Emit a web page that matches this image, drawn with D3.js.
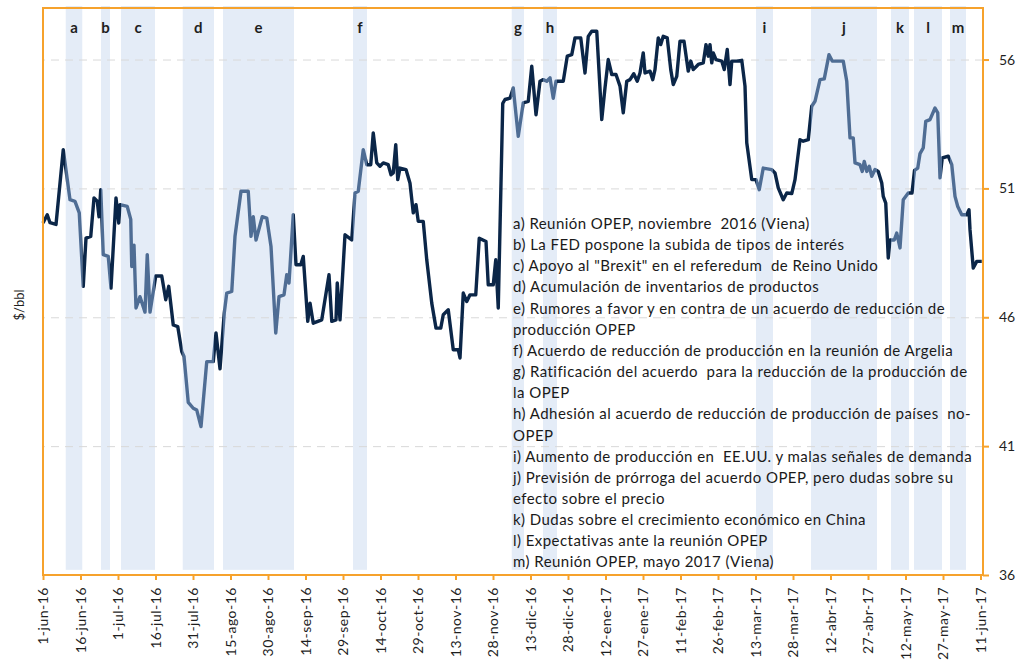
<!DOCTYPE html>
<html>
<head>
<meta charset="utf-8">
<script src="https://cdn.jsdelivr.net/npm/d3@7"></script>
<style>
  body { margin: 0; background: #fff; }
  svg { display: block; font-family: Lato, "Open Sans", sans-serif; }
</style>
</head>
<body>
<div id="chart"></div>
<script>
// ==== DATA ====
// day 0 = 1-jun-16; DAYS are days after that date, PRICE in $/bbl
const START = Date.UTC(2016, 5, 1);
const END_DAY = 376;

const DAYS = [
  0, 1.7, 2.8, 5.2, 8.1, 10.8, 12.8, 14.5, 16.1, 17.2, 19.1, 20.4, 21.7, 22.4, 23.1, 24.1, 26.1, 27.2, 29.2, 30.3,
  30.8, 33.7, 35.1, 35.5, 36.4, 37.2, 38.8, 40.8, 41.7, 42.8, 45.1, 47.5, 49.1, 50.3, 52.1, 53.9, 55.5, 56.4, 58.1, 60.1,
  61.5, 63.2, 65.5, 68.1, 69.2, 70.8, 72.5, 73.5, 75.5, 76.8, 79.2, 82.1, 83.2, 84.1, 85.2, 87.7, 89.5, 91.2, 93.1, 94.4,
  96.4, 97.5, 98.4, 100.1, 101.2, 103.1, 104.1, 105.9, 106.8, 108.1, 111.5, 114.4, 115.5, 117.2, 117.7, 118.8, 120.8, 123.5, 124.8, 126.1,
  128.1, 129.5, 131.1, 132.1, 133.5, 134.8, 136.1, 138.1, 139.2, 140.1, 141.1, 141.9, 142.8, 145.2, 146.8, 148.1, 149.2, 150.1, 152.1, 153.5,
  155.5, 157.2, 159.1, 160.1, 162.1, 164.1, 166.1, 166.8, 168.1, 169.5, 170.8, 173.1, 174.5, 177.2, 178.1, 180.1, 181.1, 182.1, 183.9, 184.8,
  186.8, 188.1, 190.1, 192.1, 194.1, 195.5, 197.2, 198.8, 200.1, 201.5, 202.8, 204.1, 205.2, 208.1, 209.7, 211.5, 212.8, 215.1, 216.8, 218.1,
  219.5, 221.5, 223.5, 224.8, 226.1, 227.5, 229.2, 230.8, 232.1, 233.5, 234.8, 236.3, 237.7, 238.8, 240.1, 240.8, 242.8, 243.9, 244.8, 246.1,
  247.1, 248.1, 249.7, 251.1, 252.1, 253.5, 254.8, 256.4, 258.1, 259.1, 260.1, 262.1, 264.1, 265.2, 266.1, 266.8, 267.5, 268.1, 269.2, 271.5,
  272.5, 273.7, 274.8, 275.5, 277.5, 279.5, 280.8, 281.5, 283.5, 285.2, 286.5, 288.1, 291.5, 292.8, 294.1, 296.1, 297.5, 299.5, 300.8, 302.8,
  304.1, 306.1, 307.5, 308.8, 310.8, 312.5, 314.4, 315.7, 320.1, 321.5, 322.8, 324.1, 324.8, 326.8, 327.7, 328.5, 329.5, 330.5, 331.5, 332.8,
  334.1, 335.5, 336.1, 337.1, 338.1, 338.8, 340.5, 341.5, 342.8, 344.1, 346.1, 347.6, 348.6, 349.9, 350.8, 352.1, 353.1, 354.8, 356.8, 357.9,
  358.8, 359.7, 362.1, 363.5, 364.8, 365.9, 367.5, 369.5, 370.4, 370.8, 372.1, 373.5, 375.5
];

const PRICE = [
  49.66, 49.98, 49.67, 49.6, 52.5, 50.56, 50.5, 50.05, 47.2, 49.07, 49.14, 50.63, 50.5, 49.9, 50.95, 48.43, 48.36, 47.13, 50.63, 49.66,
  50.37, 50.3, 49.8, 47.97, 48.8, 46.36, 46.8, 46.2, 48.43, 46.2, 47.6, 47.6, 46.68, 47.2, 45.7, 45.64, 44.67, 44.48, 42.7, 42.47,
  42.4, 41.76, 44.28, 44.28, 45.39, 44.0, 46.16, 46.94, 47.0, 49.14, 50.89, 50.89, 49.14, 49.9, 49.0, 49.9, 49.85, 48.75, 45.39, 46.8,
  46.87, 47.65, 47.33, 49.98, 48.04, 48.04, 48.36, 45.84, 46.55, 45.77, 45.9, 47.65, 45.84, 45.9, 47.33, 45.9, 49.2, 49.0, 50.82, 50.89,
  52.5, 51.92, 51.92, 53.15, 51.99, 51.86, 51.99, 51.92, 51.53, 51.6, 52.7, 51.34, 51.79, 51.73, 51.2, 50.05, 50.37, 49.72, 49.72, 48.23,
  46.55, 45.58, 45.58, 46.1, 46.29, 44.74, 44.74, 44.42, 46.94, 46.61, 46.87, 46.87, 49.07, 48.94, 47.26, 47.26, 48.23, 46.36, 54.3, 54.45,
  54.5, 54.9, 53.02, 54.32, 54.38, 55.74, 53.86, 55.16, 55.22, 55.16, 55.29, 54.5, 55.16, 55.16, 56.13, 56.19, 56.84, 56.84, 55.48, 56.9,
  57.1, 57.1, 53.67, 54.9, 56.0, 55.42, 55.42, 54.97, 53.93, 55.16, 55.22, 55.45, 55.16, 55.48, 56.26, 55.48, 55.55, 55.22, 55.61, 56.84,
  56.58, 56.9, 56.84, 55.61, 55.03, 55.35, 56.71, 56.71, 55.55, 55.94, 55.61, 55.81, 55.87, 56.58, 56.13, 56.58, 55.87, 56.26, 56.0, 55.94,
  55.61, 56.39, 55.03, 55.94, 55.94, 55.97, 54.97, 52.77, 51.34, 51.34, 50.95, 51.79, 51.73, 51.6, 51.02, 50.56, 50.82, 50.8, 51.34, 52.89,
  52.83, 52.89, 54.19, 54.38, 55.22, 55.25, 56.19, 55.94, 55.94, 55.16, 52.96, 52.96, 51.99, 51.92, 51.66, 52.05, 51.66, 51.86, 51.47, 51.73,
  51.66, 51.21, 50.69, 50.43, 48.3, 49.0, 49.0, 49.27, 48.69, 50.56, 50.82, 50.82, 51.7, 51.79, 52.35, 52.57, 53.6, 53.67, 54.12, 53.93,
  51.41, 52.18, 52.25, 51.92, 50.69, 50.3, 49.98, 49.98, 50.17, 49.4, 47.91, 48.17, 48.17
];

// event windows (days after 1-jun-16)
const BAND_LABELS = ["a", "b", "c", "d", "e", "f", "g", "h", "i", "j", "k", "l", "m"];
const BAND_START  = [9.1, 23.2, 31.2, 55.9, 72, 124, 187.5, 200, 285.2, 307.2, 339.2, 348.4, 362.8];
const BAND_END    = [15.7, 26.8, 44.8, 68.4, 100.4, 129.6, 192.4, 205.6, 292, 333.6, 346.4, 359.6, 369.2];

const Y_TICKS = [36, 41, 46, 51, 56];
const GRID_VALUES = [41, 46, 51, 56];
const X_TICK_DAYS = [0, 15, 30, 45, 60, 75, 90, 105, 120, 135, 150, 165, 180, 195, 210, 225, 240, 255, 270, 285, 300, 315, 330, 345, 360, 375];
const MESES = ["ene", "feb", "mar", "abr", "may", "jun", "jul", "ago", "sep", "oct", "nov", "dic"];

const NOTES = [
  "a) Reunión OPEP, noviembre  2016 (Viena)",
  "b) La FED pospone la subida de tipos de interés",
  "c) Apoyo al \"Brexit\" en el referedum  de Reino Unido",
  "d) Acumulación de inventarios de productos",
  "e) Rumores a favor y en contra de un acuerdo de reducción de",
  "producción OPEP",
  "f) Acuerdo de reducción de producción en la reunión de Argelia",
  "g) Ratificación del acuerdo  para la reducción de la producción de",
  "la OPEP",
  "h) Adhesión al acuerdo de reducción de producción de países  no-",
  "OPEP",
  "i) Aumento de producción en  EE.UU. y malas señales de demanda",
  "j) Previsión de prórroga del acuerdo OPEP, pero dudas sobre su",
  "efecto sobre el precio",
  "k) Dudas sobre el crecimiento económico en China",
  "l) Expectativas ante la reunión OPEP",
  "m) Reunión OPEP, mayo 2017 (Viena)"
];

// ==== SIZE / MARGINS ====
const width = 1022;
const height = 662;
const margin = { top: 8, right: 39, bottom: 87, left: 43 };

const DARK = "#0b2648";
const LIGHT = "#4f6d94";
const ORANGE = "#f6a22c";
const BAND_FILL = "#e4ecf7";

const day = d => new Date(START + d * 864e5);

// ==== SCALES ====
const x = d3.scaleUtc().domain([day(0), day(END_DAY)]).range([margin.left, width - margin.right]);
const y = d3.scaleLinear().domain([36, 58]).range([height - margin.bottom, margin.top]);

const series = DAYS.map((d, i) => ({ date: day(d), price: PRICE[i] }));
const bands = BAND_LABELS.map((k, i) => ({ key: k, s: day(BAND_START[i]), e: day(BAND_END[i]) }));

// ==== ROOT SVG ====
const svg = d3.select("#chart")
  .append("svg")
  .attr("width", width)
  .attr("height", height);

// masks: light line inside bands, dark line outside
const defs = svg.append("defs");
defs.append("clipPath").attr("id", "inBands")
  .selectAll("rect")
  .data(bands)
  .join("rect")
  .attr("x", d => x(d.s))
  .attr("width", d => x(d.e) - x(d.s))
  .attr("y", 0)
  .attr("height", height);

const mask = defs.append("mask").attr("id", "outBands");
mask.append("rect").attr("width", width).attr("height", height).attr("fill", "#fff");
mask.selectAll("rect.hole")
  .data(bands)
  .join("rect")
  .attr("class", "hole")
  .attr("x", d => x(d.s))
  .attr("width", d => x(d.e) - x(d.s))
  .attr("y", 0)
  .attr("height", height)
  .attr("fill", "#000");

// Bands
svg.append("g")
  .selectAll("rect")
  .data(bands)
  .join("rect")
  .attr("x", d => x(d.s))
  .attr("width", d => x(d.e) - x(d.s))
  .attr("y", y(58) - 2)
  .attr("height", y(36.2) - y(58) + 2)
  .attr("fill", BAND_FILL);

// Band letters
svg.append("g")
  .selectAll("text")
  .data(bands)
  .join("text")
  .attr("x", d => (x(d.s) + x(d.e)) / 2)
  .attr("y", 33)
  .attr("text-anchor", "middle")
  .attr("font-size", 15)
  .attr("font-weight", "bold")
  .attr("fill", "#1e1e1e")
  .text(d => d.key);

// Grid lines
const grid = svg.append("g")
  .attr("transform", `translate(${width - margin.right},0)`)
  .call(d3.axisRight(y).tickValues(GRID_VALUES).tickSize(-(width - margin.left - margin.right)).tickFormat(""));
grid.select(".domain").remove();
grid.selectAll(".tick line").attr("stroke", "#d9d9d9").attr("stroke-dasharray", "8,6");

// Line
const line = d3.line()
  .x(d => x(d.date))
  .y(d => y(d.price));

svg.append("path")
  .datum(series)
  .attr("fill", "none")
  .attr("stroke", DARK)
  .attr("stroke-width", 3.4)
  .attr("stroke-linejoin", "round")
  .attr("mask", "url(#outBands)")
  .attr("d", line);

svg.append("path")
  .datum(series)
  .attr("fill", "none")
  .attr("stroke", LIGHT)
  .attr("stroke-width", 3.4)
  .attr("stroke-linejoin", "round")
  .attr("clip-path", "url(#inBands)")
  .attr("d", line);

// X axis
const fmt = d => `${d.getUTCDate()}-${MESES[d.getUTCMonth()]}-${String(d.getUTCFullYear()).slice(2)}`;
const gx = svg.append("g")
  .attr("transform", `translate(0,${height - margin.bottom})`)
  .call(d3.axisBottom(x).tickValues(X_TICK_DAYS.map(day)).tickSize(5).tickFormat(fmt));
gx.select(".domain").remove();
gx.selectAll(".tick line").attr("stroke", ORANGE).attr("stroke-width", 2);
gx.selectAll(".tick text")
  .attr("transform", "rotate(-90)")
  .attr("text-anchor", "end")
  .attr("x", -12)
  .attr("y", 0)
  .attr("dy", "0.35em")
  .attr("font-size", 14)
  .attr("letter-spacing", "0.5px")
  .attr("font-family", "Lato, sans-serif")
  .attr("fill", "#1f1f1f");

// Y axis (right)
const gy = svg.append("g")
  .attr("transform", `translate(${width - margin.right},0)`)
  .call(d3.axisRight(y).tickValues(Y_TICKS).tickSize(6).tickPadding(10));
gy.select(".domain").remove();
gy.selectAll(".tick line").attr("stroke", ORANGE).attr("stroke-width", 2);
gy.selectAll(".tick text")
  .attr("font-size", 14)
  .attr("font-family", "Lato, sans-serif")
  .attr("fill", "#1f1f1f");

// Frame
svg.append("rect")
  .attr("x", margin.left)
  .attr("y", margin.top)
  .attr("width", width - margin.left - margin.right)
  .attr("height", height - margin.top - margin.bottom)
  .attr("fill", "none")
  .attr("stroke", ORANGE)
  .attr("stroke-width", 2);

// Y label
svg.append("text")
  .attr("transform", "translate(24,305) rotate(-90)")
  .attr("text-anchor", "middle")
  .attr("font-size", 13)
  .attr("fill", "#1f1f1f")
  .text("$/bbl");

// Notes
svg.append("g")
  .selectAll("text")
  .data(NOTES)
  .join("text")
  .attr("x", 513)
  .attr("y", (d, i) => 229 + i * 21.15)
  .attr("font-size", 15)
  .attr("letter-spacing", "0.45px")
  .attr("fill", "#1a1a1a")
  .style("white-space", "pre")
  .text(d => d);
</script>
</body>
</html>
